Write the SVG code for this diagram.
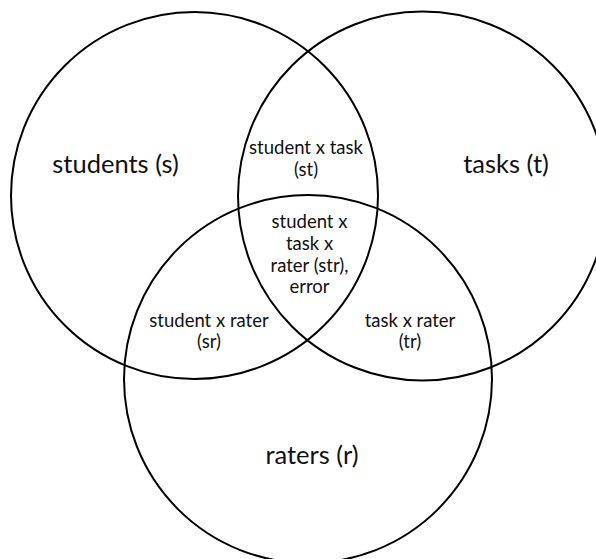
<svg xmlns="http://www.w3.org/2000/svg" width="596" height="559" viewBox="0 0 596 559">
<style>
.c{fill:none;stroke:#000;stroke-width:2}
text{font-family:Lato,"Liberation Sans",sans-serif;font-weight:400;fill:#111;text-anchor:middle}
.big{font-size:25.5px}
.sm{font-size:18.5px}
</style>
<rect width="596" height="559" fill="#fff"/>
<g id="students"><circle class="c" cx="194.5" cy="195.5" r="183.5"/></g>
<g id="tasks"><circle class="c" cx="422.5" cy="196" r="184.5"/></g>
<g id="raters"><circle class="c" cx="308" cy="379" r="184"/></g>
<g id="labels">
<text class="big" x="115.5" y="173">students (s)</text>
<text class="big" x="506" y="173">tasks (t)</text>
<text class="big" x="312" y="464">raters (r)</text>
<text class="sm" x="306" y="154">student x task</text>
<text class="sm" x="306" y="176">(st)</text>
<text class="sm" x="309.5" y="228">student x</text>
<text class="sm" x="309.5" y="250">task x</text>
<text class="sm" x="309.5" y="272">rater (str),</text>
<text class="sm" x="309.5" y="293">error</text>
<text class="sm" x="209" y="327">student x rater</text>
<text class="sm" x="209" y="348">(sr)</text>
<text class="sm" x="410" y="327">task x rater</text>
<text class="sm" x="410" y="348">(tr)</text>
</g>
</svg>
